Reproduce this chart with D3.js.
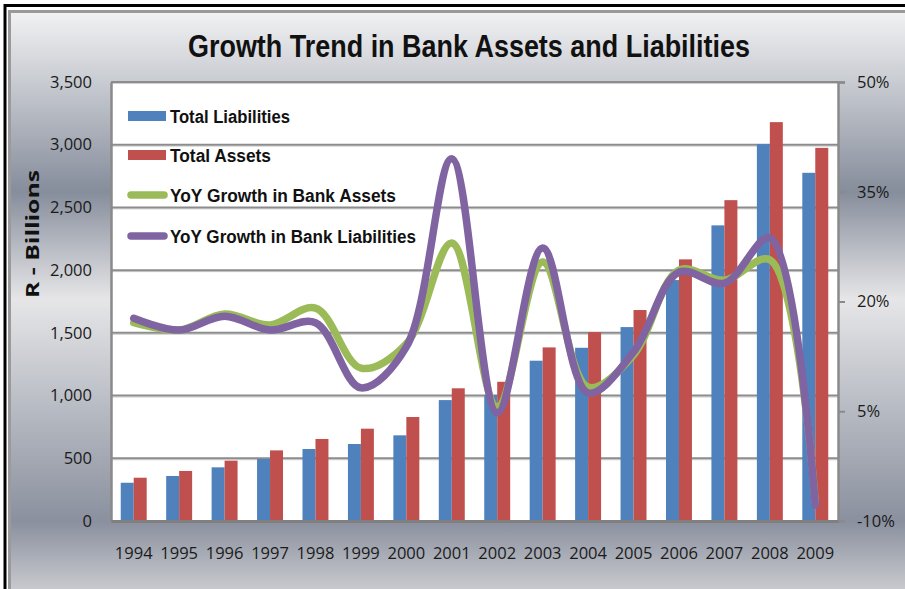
<!DOCTYPE html>
<html>
<head>
<meta charset="utf-8">
<script src="https://cdn.jsdelivr.net/npm/d3@7/dist/d3.min.js"></script>
<style>
  html, body { margin: 0; padding: 0; background: #ffffff; }
  svg { display: block; }
</style>
</head>
<body>
<svg id="chart" width="905" height="589"></svg>
<script>
// ---- data ----
const years = ["1994","1995","1996","1997","1998","1999","2000","2001",
               "2002","2003","2004","2005","2006","2007","2008","2009"];
const totalLiabilities = [305, 359, 428, 494, 574, 614, 683, 964,
                          1005, 1278, 1381, 1546, 1921, 2357, 3005, 2776];
const totalAssets      = [345, 399, 481, 563, 654, 736, 829, 1058,
                          1110, 1384, 1506, 1682, 2086, 2558, 3180, 2975];
const growthAssets      = [17.1, 16.1, 18.3, 16.8, 19.1, 10.9, 14.2, 28.0,
                           5.6, 25.4, 8.3, 12.7, 24.3, 22.9, 25.7, -7.5];
const growthLiabilities = [17.7, 16.1, 18.0, 16.1, 17.1, 8.2, 13.8, 39.5,
                           4.8, 27.3, 7.5, 13.1, 24.0, 22.5, 28.7, -7.8];
const leftTicks  = [0, 500, 1000, 1500, 2000, 2500, 3000, 3500];
const rightTicks = [-10, 5, 20, 35, 50];
const legendLabels = ["Total Liabilities", "Total Assets",
                      "YoY Growth in Bank Assets", "YoY Growth in Bank Liabilities"];
const titleText = "Growth Trend in Bank Assets and Liabilities";
const yTitleText = "R - Billions";

// ---- styling ----
const C = { blue: "#4f81bd", red: "#c0504d", green: "#9bbb59", purple: "#8064a2" };
const labelFont = "'Open Sans', 'Liberation Sans', sans-serif";
const boldFont = "'Liberation Sans', Arial, sans-serif";

const svg = d3.select("#chart");
const plot = { left: 111, right: 838, top: 82, bottom: 521 };

// ---- frame and silver background ----
const defs = svg.append("defs");
const grad = defs.append("linearGradient").attr("id", "silver")
  .attr("x1", 0).attr("y1", 0).attr("x2", 0).attr("y2", 1);
[[0, "#f2f2f3"], [0.115, "#c9ccd2"], [0.30, "#868d9b"], [0.48, "#e6e6e8"],
 [0.665, "#b6bac2"], [0.85, "#8a909e"], [1, "#dcdcde"]]
  .forEach(([o, c]) => grad.append("stop").attr("offset", o).attr("stop-color", c));

svg.append("rect").attr("x", 5).attr("y", 5.5).attr("width", 940).attr("height", 640)
  .attr("fill", "#ffffff").attr("stroke", "#000000").attr("stroke-width", 3);
svg.append("rect").attr("x", 9.5).attr("y", 11.5).attr("width", 930).attr("height", 600)
  .attr("fill", "url(#silver)").attr("stroke", "#9a9a9a").attr("stroke-width", 3);

// ---- scales ----
const x = d3.scaleBand().domain(years).range([plot.left, plot.right]).paddingInner(0).paddingOuter(0);
const groupW = x.bandwidth() / 1.75;           // 75% gap between category groups
const xSeries = d3.scaleBand().domain(["liab", "assets"])
  .range([0, groupW]);
const yLeft = d3.scaleLinear().domain([0, 3500]).range([plot.bottom, plot.top]);
const yRight = d3.scaleLinear().domain([-10, 50]).range([plot.bottom, plot.top]);
const cx = d => x(d) + x.bandwidth() / 2;

// ---- plot area ----
svg.append("rect").attr("x", plot.left).attr("y", plot.top)
  .attr("width", plot.right - plot.left).attr("height", plot.bottom - plot.top)
  .attr("fill", "#ffffff");

// gridlines
const grid = svg.append("g");
leftTicks.filter(t => t > 0).forEach(t => {
  grid.append("line").attr("x1", plot.left).attr("x2", plot.right)
    .attr("y1", yLeft(t) + 1.5).attr("y2", yLeft(t) + 1.5)
    .attr("stroke", "#d0d0d0").attr("stroke-width", 1);
  grid.append("line").attr("x1", plot.left).attr("x2", plot.right)
    .attr("y1", yLeft(t)).attr("y2", yLeft(t))
    .attr("stroke", "#8c8c8c").attr("stroke-width", 2);
});

// bars
const bars = svg.append("g");
bars.selectAll("rect.liab").data(years).join("rect").attr("class", "liab")
  .attr("x", (d) => cx(d) - groupW / 2 + xSeries("liab"))
  .attr("width", xSeries.bandwidth())
  .attr("y", (d, i) => yLeft(totalLiabilities[i]))
  .attr("height", (d, i) => yLeft(0) - yLeft(totalLiabilities[i]))
  .attr("fill", C.blue);
bars.selectAll("rect.assets").data(years).join("rect").attr("class", "assets")
  .attr("x", (d) => cx(d) - groupW / 2 + xSeries("assets"))
  .attr("width", xSeries.bandwidth())
  .attr("y", (d, i) => yLeft(totalAssets[i]))
  .attr("height", (d, i) => yLeft(0) - yLeft(totalAssets[i]))
  .attr("fill", C.red);

// smoothed growth lines (centripetal spline keeps short segments from overshooting)
const line = d3.line().curve(d3.curveCatmullRom.alpha(0.5))
  .x(d => cx(d[0])).y(d => yRight(d[1]));
svg.append("path").datum(years.map((y, i) => [y, growthAssets[i]]))
  .attr("d", line).attr("fill", "none").attr("stroke", C.green)
  .attr("stroke-width", 7.5).attr("stroke-linecap", "round").attr("stroke-linejoin", "round");
svg.append("path").datum(years.map((y, i) => [y, growthLiabilities[i]]))
  .attr("d", line).attr("fill", "none").attr("stroke", C.purple)
  .attr("stroke-width", 7.5).attr("stroke-linecap", "round").attr("stroke-linejoin", "round");

// ---- axes ----
const axisColor = "#8a8a8a";
const gL = svg.append("g").attr("transform", `translate(${plot.left},0)`)
  .call(d3.axisLeft(yLeft).tickValues(leftTicks).tickFormat(d3.format(",")).tickSize(0).tickPadding(19));
gL.select(".domain").attr("stroke", axisColor).attr("stroke-width", 2.5);
gL.selectAll("text").attr("font-family", labelFont).attr("font-size", 16.5).attr("fill", "#1a1a1a");

const gR = svg.append("g").attr("transform", `translate(${plot.right},0)`)
  .call(d3.axisRight(yRight).tickValues(rightTicks).tickFormat(d => d + "%").tickSize(7).tickPadding(12));
gR.select(".domain").attr("stroke", axisColor).attr("stroke-width", 2.5);
gR.selectAll("line").attr("stroke", axisColor).attr("stroke-width", 2);
gR.selectAll("text").attr("font-family", labelFont).attr("font-size", 16.5).attr("fill", "#1a1a1a");

const gB = svg.append("g").attr("transform", `translate(0,${plot.bottom})`)
  .call(d3.axisBottom(x).tickSize(0).tickPadding(26));
gB.select(".domain").attr("stroke", "#7f7f7f").attr("stroke-width", 3);
gB.selectAll("text").attr("font-family", labelFont).attr("font-size", 16.5).attr("fill", "#1a1a1a");

// ---- titles ----
svg.append("text").attr("x", 469).attr("y", 57).attr("text-anchor", "middle")
  .attr("font-family", boldFont).attr("font-weight", "bold").attr("font-size", 31)
  .attr("textLength", 562).attr("lengthAdjust", "spacingAndGlyphs")
  .attr("fill", "#111").text(titleText);

svg.append("text").attr("transform", "translate(39,234) rotate(-90)")
  .attr("text-anchor", "middle")
  .attr("font-family", labelFont).attr("font-weight", "bold").attr("font-size", 18)
  .attr("textLength", 128).attr("lengthAdjust", "spacingAndGlyphs")
  .attr("fill", "#111").text(yTitleText);

// ---- legend ----
const legend = svg.append("g");
const legendY = [116, 155, 195, 236];
const legendW = [120, 101, 226, 246];
const legendColors = [C.blue, C.red, C.green, C.purple];
legendLabels.forEach((lab, i) => {
  const yy = legendY[i];
  if (i < 2) {
    legend.append("rect").attr("x", 128).attr("y", yy - 5).attr("width", 38).attr("height", 10)
      .attr("fill", legendColors[i]);
  } else {
    legend.append("line").attr("x1", 131).attr("x2", 164).attr("y1", yy).attr("y2", yy)
      .attr("stroke", legendColors[i]).attr("stroke-width", 7.5).attr("stroke-linecap", "round");
  }
  legend.append("text").attr("x", 170).attr("y", yy + 6.5)
    .attr("font-family", boldFont).attr("font-weight", "bold").attr("font-size", 18)
    .attr("textLength", legendW[i]).attr("lengthAdjust", "spacingAndGlyphs")
    .attr("fill", "#111").text(lab);
});
</script>
</body>
</html>
